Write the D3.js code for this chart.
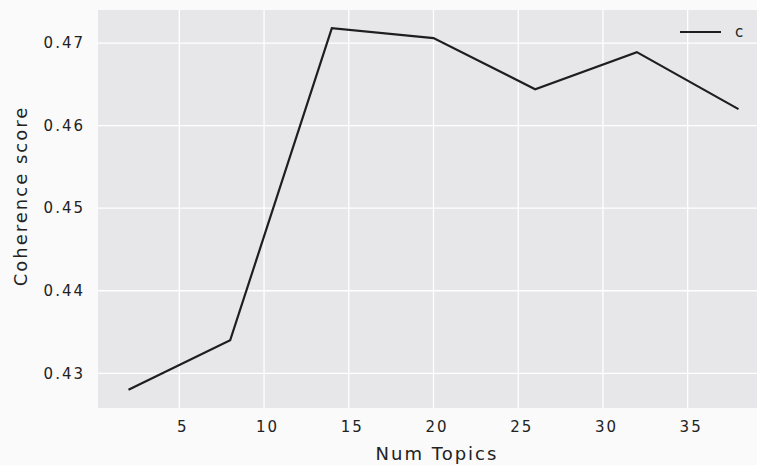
<!DOCTYPE html>
<html>
<head>
<meta charset="utf-8">
<script src="https://cdn.jsdelivr.net/npm/d3@7"></script>
<style>
  body { margin: 0; background: #fafafa; }
  svg { display: block; }
  text { font-family: "DejaVu Sans", sans-serif; fill: #222; }
</style>
</head>
<body>
<div id="chart"></div>
<script>
// num topics vs coherence
var numTopics = [2, 8, 14, 20, 26, 32, 38];
var coherence = [0.4280, 0.4340, 0.4718, 0.4706, 0.4644, 0.4689, 0.4620];
var xTicks = [5, 10, 15, 20, 25, 30, 35];
var yTicks = [0.43, 0.44, 0.45, 0.46, 0.47];
var legendLabels = ["c"];

var width = 757, height = 465;
var plotLeft = 98, plotRight = 769, plotTop = 10, plotBottom = 408;

var svg = d3.select("#chart").append("svg")
    .attr("width", width)
    .attr("height", height);

var x = d3.scaleLinear().domain([0.2, 39.8]).range([plotLeft, plotRight]);
var y = d3.scaleLinear().domain([0.4258, 0.4740]).range([plotBottom, plotTop]);

// plot background
svg.append("rect")
    .attr("x", plotLeft).attr("y", plotTop)
    .attr("width", plotRight - plotLeft).attr("height", plotBottom - plotTop)
    .attr("fill", "#e7e7ea");

// grid
svg.append("g").selectAll("line")
    .data(xTicks).enter().append("line")
    .attr("x1", function (d) { return x(d); })
    .attr("x2", function (d) { return x(d); })
    .attr("y1", plotTop).attr("y2", plotBottom)
    .attr("stroke", "#fff").attr("stroke-width", 1.3);

svg.append("g").selectAll("line")
    .data(yTicks).enter().append("line")
    .attr("x1", plotLeft).attr("x2", plotRight)
    .attr("y1", function (d) { return y(d); })
    .attr("y2", function (d) { return y(d); })
    .attr("stroke", "#fff").attr("stroke-width", 1.3);

// axes (no domain line, no tick marks)
var xAxis = svg.append("g")
    .attr("transform", "translate(0," + plotBottom + ")")
    .call(d3.axisBottom(x).tickValues(xTicks).tickSize(0).tickPadding(13));
var yAxis = svg.append("g")
    .attr("transform", "translate(" + plotLeft + ",0)")
    .call(d3.axisLeft(y).tickValues(yTicks).tickSize(0).tickPadding(13).tickFormat(d3.format(".2f")));

[xAxis, yAxis].forEach(function (g) {
    g.select(".domain").remove();
    g.selectAll("text").attr("font-size", 15).attr("fill", "#222")
        .attr("letter-spacing", 2)
        .attr("font-family", "DejaVu Sans, sans-serif");
});
xAxis.selectAll("text").attr("dx", 3);

// line
var line = d3.line()
    .x(function (d, i) { return x(numTopics[i]); })
    .y(function (d) { return y(d); });

svg.append("path")
    .datum(coherence)
    .attr("d", line)
    .attr("fill", "none")
    .attr("stroke", "#1e1e1e")
    .attr("stroke-width", 2.2)
    .attr("stroke-linejoin", "miter");

// legend
svg.append("line")
    .attr("x1", 680).attr("x2", 721)
    .attr("y1", 32).attr("y2", 32)
    .attr("stroke", "#1e1e1e").attr("stroke-width", 2.2);
svg.append("text")
    .attr("x", 735).attr("y", 37)
    .attr("font-size", 15)
    .text(legendLabels[0]);

// axis labels
svg.append("text")
    .attr("x", 437).attr("y", 460)
    .attr("text-anchor", "middle")
    .attr("font-size", 18)
    .attr("letter-spacing", 2)
    .text("Num Topics");

svg.append("text")
    .attr("transform", "translate(27,196) rotate(-90)")
    .attr("text-anchor", "middle")
    .attr("font-size", 18)
    .attr("letter-spacing", 2)
    .text("Coherence score");
</script>
</body>
</html>
